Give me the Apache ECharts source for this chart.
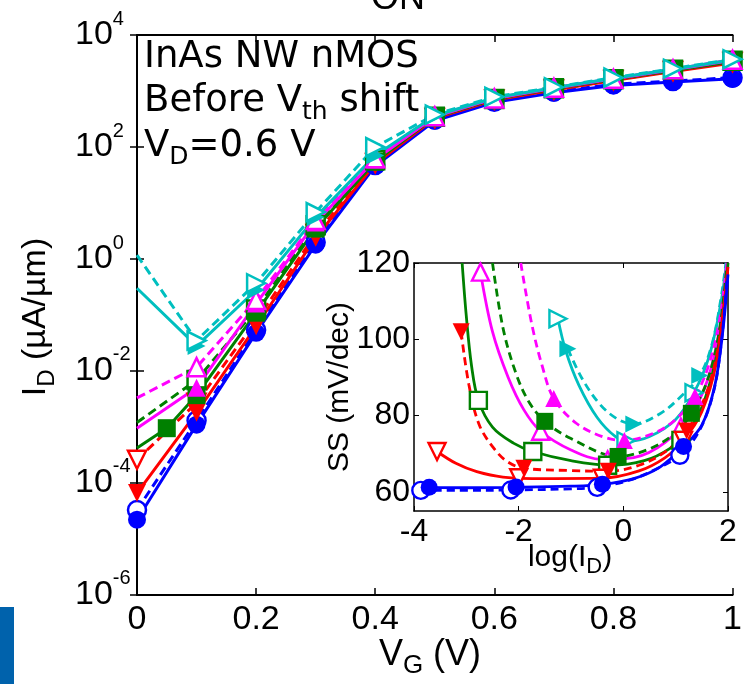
<!DOCTYPE html>
<html><head><meta charset="utf-8">
<script src="https://cdn.jsdelivr.net/npm/echarts@6/dist/echarts.min.js"></script>
<style>html,body{margin:0;padding:0;background:#fff}#c{width:745px;height:684px}</style>
</head><body><div id="c"></div>
<script>
// ---------- main plot data: I_D (uA/um) vs V_G (V) ----------
const vg = [0, 0.1, 0.2, 0.3, 0.4, 0.5, 0.6, 0.7, 0.8, 0.9, 1.0];
const vgGreenSolid = [0, 0.05, 0.1, 0.2, 0.3, 0.4, 0.5, 0.6, 0.7, 0.8, 0.9, 1.0];
const idBlueSolid   = [2.2e-5, 1.1e-3, 4.8e-2, 1.8, 46, 295, 630, 930, 1260, 1450, 1660];
const idBlueDashed  = [3.3e-5, 1.3e-3, 5.4e-2, 2.0, 48, 310, 645, 980, 1320, 1510, 1740];
const idRedSolid    = [6.6e-5, 1.8e-3, 6.3e-2, 2.4, 50, 325, 690, 1050, 1550, 2240, 3160];
const idRedDashed   = [2.6e-4, 2.7e-3, 7.9e-2, 2.8, 52, 330, 710, 1070, 1580, 2290, 3310];
const idGreenSolid  = [4.2e-4, 9.5e-4, 3.7e-3, 0.11, 3.5, 55, 340, 720, 1100, 1620, 2340, 3390];
const idGreenDashed = [1.2e-3, 6.9e-3, 0.126, 4.0, 58, 347, 725, 1120, 1620, 2400, 3470];
const idMagSolid    = [9.5e-4, 5.0e-3, 0.16, 4.5, 60, 347, 740, 1120, 1660, 2400, 3550];
const idMagDashed   = [3.3e-3, 1.17e-2, 0.186, 5.0, 63, 355, 740, 1150, 1660, 2450, 3630];
const idCyanSolid   = [0.30, 2.8e-2, 0.28, 5.6, 71, 363, 760, 1150, 1700, 2450, 3630];
const idCyanDashed  = [1.17, 3.5e-2, 0.37, 6.9, 100, 380, 790, 1175, 1740, 2510, 3720];
const mainYTicks = [1e-6, 1e-4, 1e-2, 1e0, 1e2, 1e4];

// ---------- inset data: SS (mV/dec) vs log(I_D) ----------
const inBlueSolid = [[-3.71,61.2],[-3,61.1],[-2.05,61.2],[-1,61.5],[-0.4,62],[0.2,63.5],[0.7,66.5],[1.15,71.9],[1.5,77.5],[1.75,88],[1.9,102],[2.0,117]];
const inBlueSolidMk = [[-3.71,61.2],[-2.05,61.3],[-0.4,62.0],[1.15,71.9]];
const inBlueDashed = [[-3.87,60.4],[-3,60.4],[-2.15,60.5],[-1,60.8],[-0.5,61.2],[0.1,63],[0.6,65.8],[1.08,69.6],[1.45,76],[1.72,86],[1.88,100],[1.98,116]];
const inBlueDashedMk = [[-3.87,60.4],[-2.15,60.5],[-0.5,61.2],[1.08,69.6]];
const inRedDashed = [[-3.1,102],[-2.95,88],[-2.75,77.5],[-2.45,71],[-2.2,67.8],[-1.9,66.2],[-1,65.6],[-0.29,65.4],[0.3,67],[0.8,70.5],[1.21,76],[1.55,84.5],[1.8,97],[2.0,119]];
const inRedDashedMk = [[-3.1,102],[-1.9,66.2],[-0.29,65.4],[1.21,76]];
const inRedSolid = [[-3.56,70.6],[-3.2,67.5],[-2.8,65.3],[-2.3,63.9],[-1.5,63.5],[-0.4,63.6],[0.3,65.5],[0.8,69],[1.15,73.5],[1.5,81],[1.78,94],[1.95,112],[2.0,119]];
const inRedSolidMk = [[-3.56,70.6],[-2.0,63.7],[-0.4,63.6],[1.15,73.5]];
const inGreenSolid = [[-3.08,120],[-3.0,106],[-2.9,93],[-2.77,84],[-2.5,77],[-2.1,72.8],[-1.73,70.6],[-1,68.2],[-0.25,67],[0.4,68.2],[0.9,71.5],[1.25,76],[1.55,84],[1.8,97],[1.95,112],[2.0,120]];
const inGreenSolidMk = [[-2.77,84],[-1.73,70.6],[-0.3,67],[1.1,73.5]];
const inGreenDashed = [[-2.5,120],[-2.3,103],[-2.05,91],[-1.8,83.5],[-1.5,78.5],[-1,74],[-0.1,69.3],[0.5,71.3],[1.0,75.5],[1.3,80.6],[1.6,89],[1.82,101],[1.97,118]];
const inGreenDashedMk = [[-1.5,78.5],[-0.1,69.3],[1.3,80.6]];
const inMagSolid = [[-2.73,117.6],[-2.5,102],[-2.2,90],[-1.9,81.5],[-1.58,75.9],[-1,71],[-0.4,68.5],[0.2,69],[0.8,73],[1.3,80.5],[1.6,89],[1.83,102],[1.97,119]];
const inMagSolidMk = [[-2.73,117.6],[-1.58,75.9],[-0.3,68.4],[1.1,77]];
const inMagDashed = [[-1.96,120],[-1.75,104],[-1.55,93],[-1.33,84.5],[-0.9,78],[-0.4,74.5],[0.02,73.5],[0.6,75.5],[1.0,79],[1.37,85],[1.65,94],[1.85,106],[1.98,120]];
const inMagDashedMk = [[-1.33,84.5],[0.02,73.5],[1.37,85]];
const inCyanSolid = [[-1.25,105.4],[-1.1,97],[-0.85,88],[-0.5,79.5],[-0.15,74.5],[0.1,73.3],[0.5,74.5],[1.0,79],[1.35,86],[1.65,96],[1.87,110],[1.97,120]];
const inCyanSolidMk = [[-1.25,105.4],[0.05,73.4],[1.35,86]];
const inCyanDashed = [[-1.06,97.5],[-0.8,90],[-0.45,83],[-0.1,79],[0.2,77.8],[0.7,80.5],[1.1,85],[1.46,90.5],[1.7,99],[1.88,112],[1.96,120]];
const inCyanDashedMk = [[-1.06,97.5],[0.2,77.8],[1.46,90.5]];
const insetYTicks = [60, 80, 100, 120];

// ---------- styling ----------
const C = {blue:'#0000ff', red:'#ff0000', green:'#008000', mag:'#ff00ff', cyan:'#00bfbf'};
const FONT = 'Liberation Sans, Arial, sans-serif';
const pair = (xs, ys) => xs.map((x, i) => [x, ys[i]]);

function mainLine(data, color, symbol, rot, filled, dashed, skipFirst) {
  return {
    type: 'line', xAxisIndex: 0, yAxisIndex: 0, data: data,
    symbol: skipFirst ? function (v, p) { return p.dataIndex === 0 ? 'none' : symbol; } : symbol,
    symbolRotate: rot, symbolSize: 18, showSymbol: true, showAllSymbol: true,
    lineStyle: {color: color, width: 3, type: dashed ? [9, 5] : 'solid'},
    itemStyle: {color: filled ? color : '#ffffff', borderColor: color, borderWidth: filled ? 0 : 2.5},
    silent: true, animation: false
  };
}
function insetLine(data, color, dashed) {
  return {
    type: 'line', xAxisIndex: 2, yAxisIndex: 2, data: data, smooth: 0.35,
    showSymbol: false, lineStyle: {color: color, width: 2.8, type: dashed ? [8, 5] : 'solid'},
    silent: true, animation: false
  };
}
function insetMarks(data, color, symbol, rot, filled) {
  return {
    type: 'scatter', xAxisIndex: 2, yAxisIndex: 2, data: data, symbol: symbol, symbolRotate: rot,
    symbolSize: 17, itemStyle: {color: filled ? color : '#ffffff', borderColor: color, borderWidth: filled ? 0 : 2.4, opacity: 1},
    silent: true, animation: false, z: 3
  };
}

const supLabel = v => { const e = Math.round(Math.log10(v)); return '{b|10}{s|' + e + '}'; };
const supRich = {b: {fontSize: 34, lineHeight: 52, fontFamily: FONT, color: '#000'},
                 s: {fontSize: 20, lineHeight: 20, verticalAlign: 'top', fontFamily: FONT, color: '#000'}};

const chart = echarts.init(document.getElementById('c'), null, {renderer: 'canvas'});
const option = {
  backgroundColor: '#fff',
  animation: false,
  textStyle: {fontFamily: FONT},
  grid: [
    {left: 137, top: 35, width: 609, height: 560, show: false},
    {left: 414, top: 263, width: 314, height: 248, show: true, backgroundColor: '#fff', borderWidth: 0}
  ],
  xAxis: [
    {type: 'value', gridIndex: 0, min: 0, max: 1, interval: 0.2, position: 'bottom',
     axisLine: {show: true, lineStyle: {color: '#000', width: 2}},
     axisTick: {show: true, inside: true, length: 7, lineStyle: {color: '#000', width: 1.5}},
     axisLabel: {show: true, fontSize: 34, color: '#000', margin: 8, fontFamily: FONT},
     splitLine: {show: false}},
    {type: 'value', gridIndex: 0, min: 0, max: 1, interval: 0.2, position: 'top',
     axisLine: {show: true, lineStyle: {color: '#000', width: 2}},
     axisTick: {show: true, inside: true, length: 7, lineStyle: {color: '#000', width: 1.5}},
     axisLabel: {show: false}, splitLine: {show: false}},
    {type: 'value', gridIndex: 1, min: -4, max: 2, interval: 2, position: 'bottom',
     axisLine: {show: true, onZero: false, lineStyle: {color: '#000', width: 1.5}},
     axisTick: {show: true, inside: true, length: 5, lineStyle: {color: '#000'}},
     axisLabel: {show: true, fontSize: 32, color: '#000', margin: 5, fontFamily: FONT},
     splitLine: {show: false}},
    {type: 'value', gridIndex: 1, min: -4, max: 2, interval: 2, position: 'top',
     axisLine: {show: true, onZero: false, lineStyle: {color: '#000', width: 1.5}},
     axisTick: {show: true, inside: true, length: 5, lineStyle: {color: '#000'}},
     axisLabel: {show: false}, splitLine: {show: false}}
  ],
  yAxis: [
    {type: 'log', gridIndex: 0, logBase: 10, min: 0.995e-6, max: 1.005e4, position: 'left',
     axisLine: {show: true, lineStyle: {color: '#000', width: 2}},
     axisTick: {show: true, inside: true, length: 7, customValues: mainYTicks, lineStyle: {color: '#000', width: 1.5}},
     axisLabel: {show: true, customValues: mainYTicks, formatter: supLabel, rich: supRich, align: 'left', margin: 62},
     splitLine: {show: false}, minorTick: {show: false}},
    {type: 'log', gridIndex: 0, logBase: 10, min: 0.995e-6, max: 1.005e4, position: 'right',
     axisLine: {show: false},
     axisTick: {show: true, inside: true, length: 7, customValues: mainYTicks, lineStyle: {color: '#000', width: 1.5}},
     axisLabel: {show: false}, splitLine: {show: false}},
    {type: 'value', gridIndex: 1, min: 55, max: 120, position: 'left',
     axisLine: {show: true, onZero: false, lineStyle: {color: '#000', width: 1.5}},
     axisTick: {show: true, inside: true, length: 5, customValues: insetYTicks, lineStyle: {color: '#000'}},
     axisLabel: {show: true, customValues: insetYTicks, fontSize: 32, color: '#000', margin: 4, fontFamily: FONT},
     splitLine: {show: false}},
    {type: 'value', gridIndex: 1, min: 55, max: 120, position: 'right',
     axisLine: {show: true, onZero: false, lineStyle: {color: '#000', width: 1.5}},
     axisTick: {show: true, inside: true, length: 5, customValues: insetYTicks, lineStyle: {color: '#000'}},
     axisLabel: {show: false}, splitLine: {show: false}}
  ],
  series: [
    mainLine(pair(vg, idBlueDashed), C.blue, 'circle', 0, false, true, false),
    mainLine(pair(vg, idBlueSolid), C.blue, 'circle', 0, true, false, false),
    mainLine(pair(vg, idRedDashed), C.red, 'triangle', 180, false, true, false),
    mainLine(pair(vg, idRedSolid), C.red, 'triangle', 180, true, false, false),
    mainLine(pair(vg, idGreenDashed), C.green, 'rect', 0, false, true, true),
    mainLine(pair(vgGreenSolid, idGreenSolid), C.green, 'rect', 0, true, false, true),
    mainLine(pair(vg, idMagSolid), C.mag, 'triangle', 0, true, false, true),
    mainLine(pair(vg, idMagDashed), C.mag, 'triangle', 0, false, true, true),
    mainLine(pair(vg, idCyanSolid), C.cyan, 'triangle', -90, true, false, true),
    mainLine(pair(vg, idCyanDashed), C.cyan, 'triangle', -90, false, true, true),

    insetLine(inCyanSolid, C.cyan, false), insetLine(inCyanDashed, C.cyan, true),
    insetLine(inMagSolid, C.mag, false), insetLine(inMagDashed, C.mag, true),
    insetLine(inGreenSolid, C.green, false), insetLine(inGreenDashed, C.green, true),
    insetLine(inRedSolid, C.red, false), insetLine(inRedDashed, C.red, true),
    insetLine(inBlueSolid, C.blue, false), insetLine(inBlueDashed, C.blue, true),
    insetMarks(inCyanSolidMk, C.cyan, 'triangle', -90, false),
    insetMarks(inCyanDashedMk, C.cyan, 'triangle', -90, true),
    insetMarks(inMagSolidMk, C.mag, 'triangle', 0, false),
    insetMarks(inMagDashedMk, C.mag, 'triangle', 0, true),
    insetMarks(inGreenSolidMk, C.green, 'rect', 0, false),
    insetMarks(inGreenDashedMk, C.green, 'rect', 0, true),
    insetMarks(inRedSolidMk, C.red, 'triangle', 180, false),
    insetMarks(inRedDashedMk, C.red, 'triangle', 180, true),
    insetMarks(inBlueDashedMk, C.blue, 'circle', 0, false),
    insetMarks(inBlueSolidMk, C.blue, 'circle', 0, true)
  ],
  graphic: [
    {type: 'rect', shape: {x: 0, y: 607, width: 14, height: 77}, style: {fill: '#0062ac'}, silent: true},
    {type: 'text', x: 398, y: 17, silent: true,
     style: {text: 'ON', font: '36px ' + FONT, fill: '#000', textAlign: 'center', textVerticalAlign: 'bottom'}},
    {type: 'text', x: 144, y: 57, silent: true,
     style: {text: 'InAs NW nMOS', font: '37px DejaVu Sans', fill: '#000', textAlign: 'left', textVerticalAlign: 'middle'}},
    {type: 'text', x: 144, y: 101, silent: true,
     style: {text: '{a|Before V}{s|th}{a| shift}', textAlign: 'left', textVerticalAlign: 'middle',
       rich: {a: {fontSize: 37, lineHeight: 48, fontFamily: 'DejaVu Sans', color: '#000'},
              s: {fontSize: 25, lineHeight: 25, verticalAlign: 'bottom', fontFamily: 'DejaVu Sans', color: '#000'}}}},
    {type: 'text', x: 144, y: 146, silent: true,
     style: {text: '{a|V}{s|D}{a|=0.6 V}', textAlign: 'left', textVerticalAlign: 'middle',
       rich: {a: {fontSize: 37, lineHeight: 48, fontFamily: 'DejaVu Sans', color: '#000'},
              s: {fontSize: 25, lineHeight: 25, verticalAlign: 'bottom', fontFamily: 'DejaVu Sans', color: '#000'}}}},
    {type: 'text', x: 430, y: 655, silent: true,
     style: {text: '{a|V}{s|G}{a| (V)}', textAlign: 'center', textVerticalAlign: 'middle',
       rich: {a: {fontSize: 36, lineHeight: 48, fontFamily: FONT, color: '#000'},
              s: {fontSize: 26, lineHeight: 26, verticalAlign: 'bottom', fontFamily: FONT, color: '#000'}}}},
    {type: 'text', x: 36, y: 317, rotation: Math.PI / 2, silent: true,
     style: {text: '{a|I}{s|D}{a| (µA/µm)}', textAlign: 'center', textVerticalAlign: 'middle',
       rich: {a: {fontSize: 34, lineHeight: 46, fontFamily: FONT, color: '#000'},
              s: {fontSize: 24, lineHeight: 24, verticalAlign: 'bottom', fontFamily: FONT, color: '#000'}}}},
    {type: 'text', x: 340, y: 387, rotation: Math.PI / 2, silent: true,
     style: {text: 'SS (mV/dec)', font: '30px ' + FONT, fill: '#000', textAlign: 'center', textVerticalAlign: 'middle'}},
    {type: 'text', x: 570, y: 558, silent: true,
     style: {text: '{a|log(I}{s|D}{a|)}', textAlign: 'center', textVerticalAlign: 'middle',
       rich: {a: {fontSize: 30, lineHeight: 40, fontFamily: FONT, color: '#000'},
              s: {fontSize: 22, lineHeight: 22, verticalAlign: 'bottom', fontFamily: FONT, color: '#000'}}}}
  ]
};
chart.setOption(option);
</script>
</body></html>
